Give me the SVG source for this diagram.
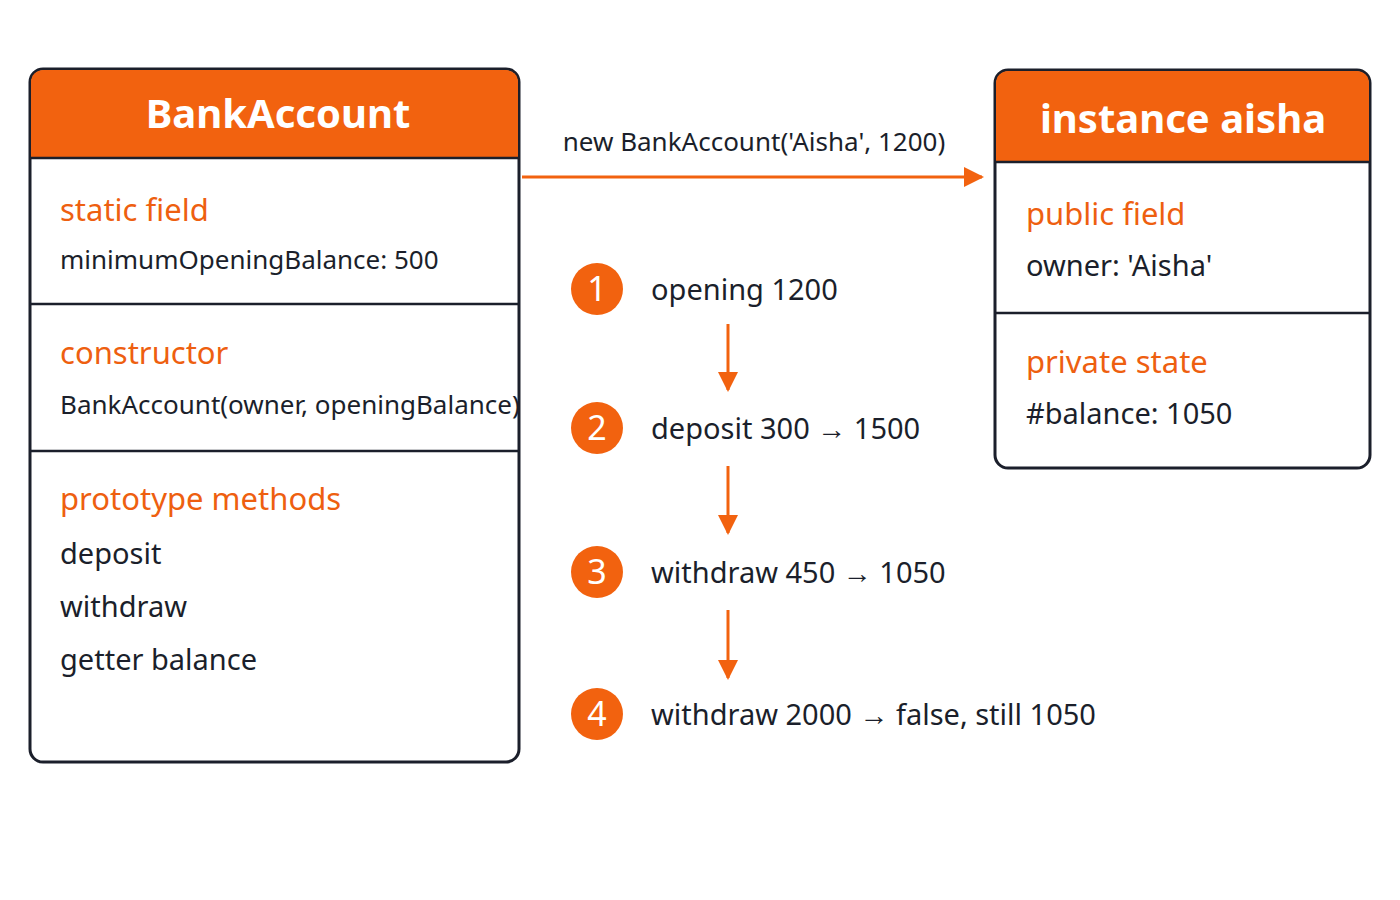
<svg xmlns="http://www.w3.org/2000/svg" width="1400" height="900" viewBox="0 0 1400 900">
<defs>
<style>
.box{fill:#fff;stroke:#1b1f2b;stroke-width:3}
.hdr{fill:#f2620f}
.div{stroke:#1b1f2b;stroke-width:2.5}
.ht{font-family:"Noto Sans",sans-serif;font-size:40px;font-weight:bold;fill:#fff;text-anchor:middle}
.sec{font-family:"Noto Sans",sans-serif;font-size:31px;fill:#ee5f10}
.t{font-family:"Noto Sans",sans-serif;font-size:26px;fill:#1b1f2b}
.st{font-family:"Noto Sans",sans-serif;font-size:29px;fill:#1b1f2b}
.num{font-family:"Noto Sans",sans-serif;font-size:34px;fill:#fff;text-anchor:middle}
.circ{fill:#f2620f}
.ln{stroke:#f2620f;stroke-width:3;fill:none}
</style>
<marker id="ah" markerWidth="8" markerHeight="8" refX="7" refY="4" orient="auto" markerUnits="userSpaceOnUse" viewBox="0 0 8 8"><path d="M0,0 L8,4 L0,8Z" fill="#f2620f"/></marker>
<marker id="ah2" viewBox="0 0 10 10" refX="9" refY="5" markerWidth="20" markerHeight="20" orient="auto" markerUnits="userSpaceOnUse"><path d="M0,0 L10,5 L0,10Z" fill="#f2620f"/></marker>
</defs>
<rect width="1400" height="900" fill="#fff"/>
<g id="bankaccount">
<rect class="box" x="30" y="69" width="489" height="693" rx="13"/>
<path class="hdr" d="M43,70 H506 A12,12 0 0 1 518,82 V158 H31 V82 A12,12 0 0 1 43,70Z"/>
<line class="div" x1="30" y1="158" x2="519" y2="158"/>
<line class="div" x1="30" y1="304" x2="519" y2="304"/>
<line class="div" x1="30" y1="451" x2="519" y2="451"/>
<text class="ht" x="278" y="128">BankAccount</text>
<text class="sec" x="60" y="221">static field</text>
<text class="t" x="60" y="269">minimumOpeningBalance: 500</text>
<text class="sec" x="60" y="364">constructor</text>
<text class="t" x="60" y="414">BankAccount(owner, openingBalance)</text>
<text class="sec" x="60" y="510">prototype methods</text>
<text class="st" x="60" y="564">deposit</text>
<text class="st" x="60" y="617">withdraw</text>
<text class="st" x="60" y="670">getter balance</text>
</g>
<g id="instance">
<rect class="box" x="995" y="70" width="375" height="398" rx="13"/>
<path class="hdr" d="M1008,71 H1357 A12,12 0 0 1 1369,83 V162 H996 V83 A12,12 0 0 1 1008,71Z"/>
<line class="div" x1="995" y1="162" x2="1370" y2="162"/>
<line class="div" x1="995" y1="313" x2="1370" y2="313"/>
<text class="ht" x="1183" y="133">instance aisha</text>
<text class="sec" x="1026" y="225">public field</text>
<text class="st" x="1026" y="276">owner: 'Aisha'</text>
<text class="sec" x="1026" y="373">private state</text>
<text class="st" x="1026" y="424">#balance: 1050</text>
</g>
<g id="steps">
<circle class="circ" cx="597" cy="289" r="26"/><text class="num" x="597" y="301">1</text>
<text class="st" x="651" y="300">opening 1200</text>
<circle class="circ" cx="597" cy="428" r="26"/><text class="num" x="597" y="440">2</text>
<text class="st" x="651" y="439">deposit 300 → 1500</text>
<circle class="circ" cx="597" cy="572" r="26"/><text class="num" x="597" y="584">3</text>
<text class="st" x="651" y="583">withdraw 450 → 1050</text>
<circle class="circ" cx="597" cy="714" r="26"/><text class="num" x="597" y="726">4</text>
<text class="st" x="651" y="725">withdraw 2000 → false, still 1050</text>
</g>
<g id="connectors">
<line class="ln" x1="522" y1="177" x2="982" y2="177" marker-end="url(#ah2)"/>
<text class="t" x="754" y="151" text-anchor="middle">new BankAccount('Aisha', 1200)</text>
<line class="ln" x1="728" y1="324" x2="728" y2="390" marker-end="url(#ah2)"/>
<line class="ln" x1="728" y1="466" x2="728" y2="533" marker-end="url(#ah2)"/>
<line class="ln" x1="728" y1="610" x2="728" y2="678" marker-end="url(#ah2)"/>
</g>
</svg>
